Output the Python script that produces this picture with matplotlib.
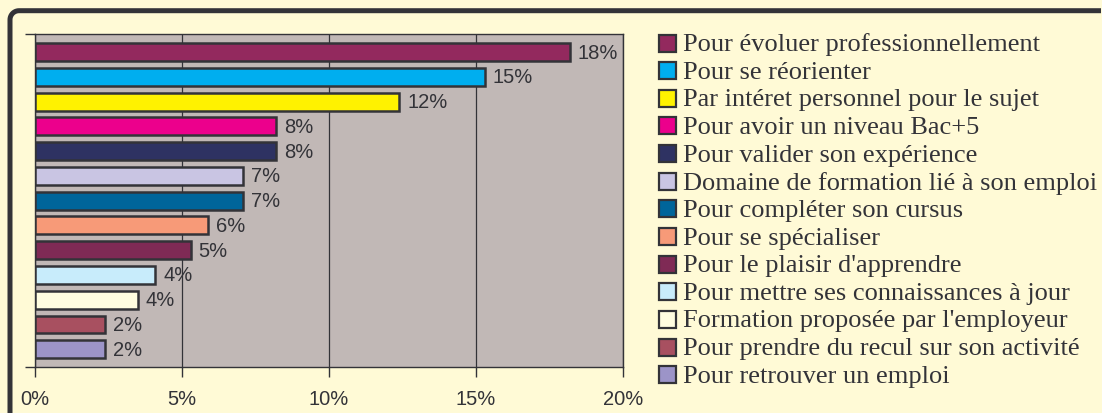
import matplotlib
matplotlib.use("Agg")
import matplotlib.pyplot as plt
from matplotlib.lines import Line2D
from matplotlib.patches import Rectangle
from matplotlib.transforms import IdentityTransform
import numpy as np

categories = [
    "Pour évoluer professionnellement",
    "Pour se réorienter",
    "Par intéret personnel pour le sujet",
    "Pour avoir un niveau Bac+5",
    "Pour valider son expérience",
    "Domaine de formation lié à son emploi",
    "Pour compléter son cursus",
    "Pour se spécialiser",
    "Pour le plaisir d'apprendre",
    "Pour mettre ses connaissances à jour",
    "Formation proposée par l'employeur",
    "Pour prendre du recul sur son activité",
    "Pour retrouver un emploi",
]
values = [18.2, 15.3, 12.4, 8.2, 8.2, 7.1, 7.1, 5.9, 5.3, 4.1, 3.5, 2.4, 2.4]
value_labels = ["18%", "15%", "12%", "8%", "8%", "7%", "7%", "6%", "5%", "4%", "4%", "2%", "2%"]
colors = ["#93295E", "#00AEEF", "#FFF200", "#EC008C", "#2E3262", "#C9C5E3",
          "#00659A", "#F79A78", "#7F2A55", "#C8ECFB", "#FFFDE0", "#A85060", "#9C94C8"]
xticks = [0, 5, 10, 15, 20]
xtick_labels = ["0%", "5%", "10%", "15%", "20%"]

W, H = 1102, 414
fig = plt.figure(figsize=(W / 100, H / 100), dpi=100, facecolor="#FFFAD6")
ax = fig.add_axes([34.7 / W, 1 - 368 / H, (622.7 - 34.7) / W, (368 - 35.3) / H])
ax.set_facecolor("#C1B8B6")

dark = "#333338"
ypos = list(range(len(categories)))
ax.barh(ypos, values, height=0.72, color=colors, edgecolor=dark, linewidth=1.8, zorder=3)
for y, v, lab in zip(ypos, values, value_labels):
    ax.text(v + 0.27, y, lab, va="center", ha="left", fontsize=14.5,
            family="Liberation Sans", color=dark, zorder=4)

ax.set_xlim(0, 20)
ax.set_ylim(12.72, -0.72)
ax.set_xticks(xticks)
ax.set_xticklabels(xtick_labels, fontsize=14.5, family="Liberation Sans", color=dark)
ax.set_yticks([-0.72, 12.72])
ax.set_yticklabels([])
ax.tick_params(axis="x", length=7, width=1, color=dark, pad=9)
ax.tick_params(axis="y", length=7, width=1, color=dark)
ax.xaxis.grid(True, color=dark, linewidth=0.9, zorder=1)
ax.set_axisbelow(True)
for s in ax.spines.values():
    s.set_color(dark)
    s.set_linewidth(1.0)

# legend drawn manually
x_box = 659
y0 = 44
dy = 27.65
for i, (cat, col) in enumerate(zip(categories, colors)):
    yc = y0 + i * dy
    fig.patches.append(Rectangle((x_box, H - yc - 8.5), 17, 17, facecolor=col,
                                 edgecolor=dark, linewidth=1.6,
                                 transform=IdentityTransform(), figure=fig))
    fig.text(683 / W, 1 - (yc + 1) / H, cat, ha="left", va="center", fontsize=19,
             family="Liberation Serif", color=dark)

# outer frame: left and top edges with rounded top-left corner
xl, yt, r = 10.0, H - 11.7, 9.0
theta = np.linspace(np.pi, np.pi / 2, 12)
arc_x = list(xl + r + r * np.cos(theta))
arc_y = list(yt - r + r * np.sin(theta))
fx = [xl] + arc_x + [W - 1]
fy = [0] + arc_y + [yt]
fig.add_artist(Line2D([x / W for x in fx], [y / H for y in fy], color=dark,
                      linewidth=3.6, solid_capstyle="butt", solid_joinstyle="round",
                      transform=fig.transFigure))

fig.savefig("out.png", dpi=100, facecolor=fig.get_facecolor())
